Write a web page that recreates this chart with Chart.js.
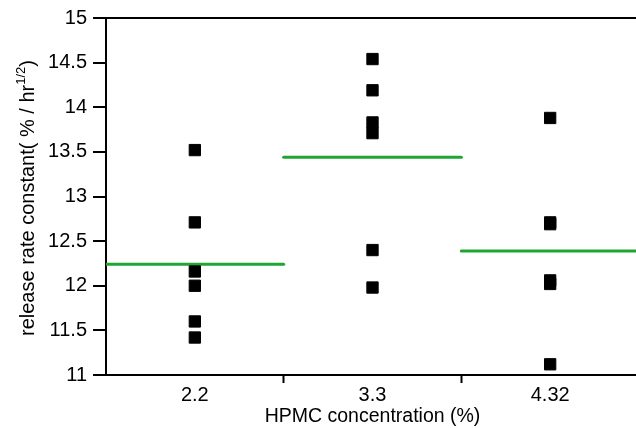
<!DOCTYPE html>
<html lang="en">
<head>
    <meta charset="UTF-8">
    <title>Release rate constant vs HPMC concentration</title>
    <script src="https://cdn.jsdelivr.net/npm/chart.js"></script>
    <style>
        html, body {
            margin: 0;
            padding: 0;
            background: #fff;
            overflow: hidden;
        }
        #wrap {
            width: 648px;
            height: 428px;
            position: relative;
        }
    </style>
</head>
<body>

<div id="wrap"><canvas id="grafico"></canvas></div>

<script>
    const categories = ['2.2', '3.3', '4.32'];
    const group1 = [13.52, 12.71, 12.16, 12.00, 11.60, 11.42];
    const group2 = [14.54, 14.19, 13.83, 13.71, 12.40, 11.98];
    const group3 = [13.88, 12.71, 12.69, 12.06, 12.02, 11.12];
    const means = [12.24, 13.44, 12.39];
    const yTicks = [11, 11.5, 12, 12.5, 13, 13.5, 14, 14.5, 15];

    const FONT = 'Arial, "Liberation Sans", sans-serif';
    const GREEN = '#1fa533';

    // punti: categoria -> valori
    const puntiDati = [];
    [group1, group2, group3].forEach((g, i) => {
        g.forEach(v => puntiDati.push({ x: categories[i], y: v }));
    });

    // linee della media, una per categoria (asse lineare nascosto)
    const lineeMedia = means.map((m, i) => ({
        type: 'line',
        xAxisID: 'xm',
        data: [{ x: i + 0.5, y: m }, { x: i + 1.5, y: m }],
        borderColor: GREEN,
        borderWidth: 3,
        borderCapStyle: 'round',
        pointRadius: 0,
        fill: false
    }));

    // titolo asse y con esponente
    const titoloY = {
        id: 'titoloY',
        afterDraw(chart) {
            const c = chart.ctx;
            c.save();
            c.translate(28, 198);
            c.rotate(-Math.PI / 2);
            c.fillStyle = '#000';
            c.textBaseline = 'middle';
            const main = 'release rate constant( % / hr';
            const sup = '1/2';
            const end = ')';
            c.font = '20px ' + FONT;
            const w1 = c.measureText(main).width;
            const w3 = c.measureText(end).width;
            c.font = '13px ' + FONT;
            const w2 = c.measureText(sup).width;
            let x = -(w1 + w2 + w3) / 2;
            c.textAlign = 'left';
            c.font = '20px ' + FONT;
            c.fillText(main, x, 0);
            x += w1;
            c.font = '13px ' + FONT;
            c.fillText(sup, x, -7);
            x += w2;
            c.font = '20px ' + FONT;
            c.fillText(end, x, 0);
            c.restore();
        }
    };

    const ctx = document.getElementById('grafico').getContext('2d');
    new Chart(ctx, {
        type: 'line',
        data: {
            labels: categories,
            datasets: [{
                data: puntiDati,
                showLine: false,
                pointStyle: 'rect',
                pointRadius: 8,
                pointHoverRadius: 8,
                pointBackgroundColor: '#000',
                pointBorderColor: '#000',
                pointBorderWidth: 1
            }, ...lineeMedia]
        },
        options: {
            responsive: true,
            maintainAspectRatio: false,
            animation: false,
            layout: { padding: { top: 18, right: 0, left: 0, bottom: 0 } },
            plugins: {
                legend: { display: false },
                tooltip: { enabled: false }
            },
            scales: {
                x: {
                    type: 'category',
                    offset: true,
                    afterFit(scale) { scale.height = 53; },
                    border: { display: true, color: '#000', width: 2 },
                    grid: {
                        offset: true,
                        drawOnChartArea: false,
                        tickLength: 8,
                        tickWidth: 2,
                        tickColor: (c) => c.index === 0 ? 'rgba(0,0,0,0)' : '#000'
                    },
                    ticks: {
                        color: '#000',
                        padding: 0,
                        font: { family: FONT, size: 20 }
                    },
                    title: {
                        display: true,
                        text: 'HPMC concentration (%)',
                        color: '#000',
                        padding: { top: 0, bottom: 0 },
                        font: { family: FONT, size: 19.5 }
                    }
                },
                xm: {
                    type: 'linear',
                    display: false,
                    min: 0.5,
                    max: 3.5
                },
                y: {
                    min: yTicks[0],
                    max: yTicks[yTicks.length - 1],
                    afterFit(scale) { scale.width = 106; },
                    afterBuildTicks(scale) { scale.ticks = yTicks.map(v => ({ value: v })); },
                    border: { display: true, color: '#000', width: 2 },
                    grid: {
                        drawOnChartArea: true,
                        tickLength: 13,
                        tickWidth: 2,
                        tickColor: '#000',
                        lineWidth: 2,
                        color: (c) => c.tick && c.tick.value === 15 ? '#000' : 'rgba(0,0,0,0)'
                    },
                    ticks: {
                        color: '#000',
                        padding: 6,
                        font: { family: FONT, size: 20 },
                        callback: (v) => String(v)
                    }
                }
            }
        },
        plugins: [titoloY]
    });
</script>

</body>
</html>
